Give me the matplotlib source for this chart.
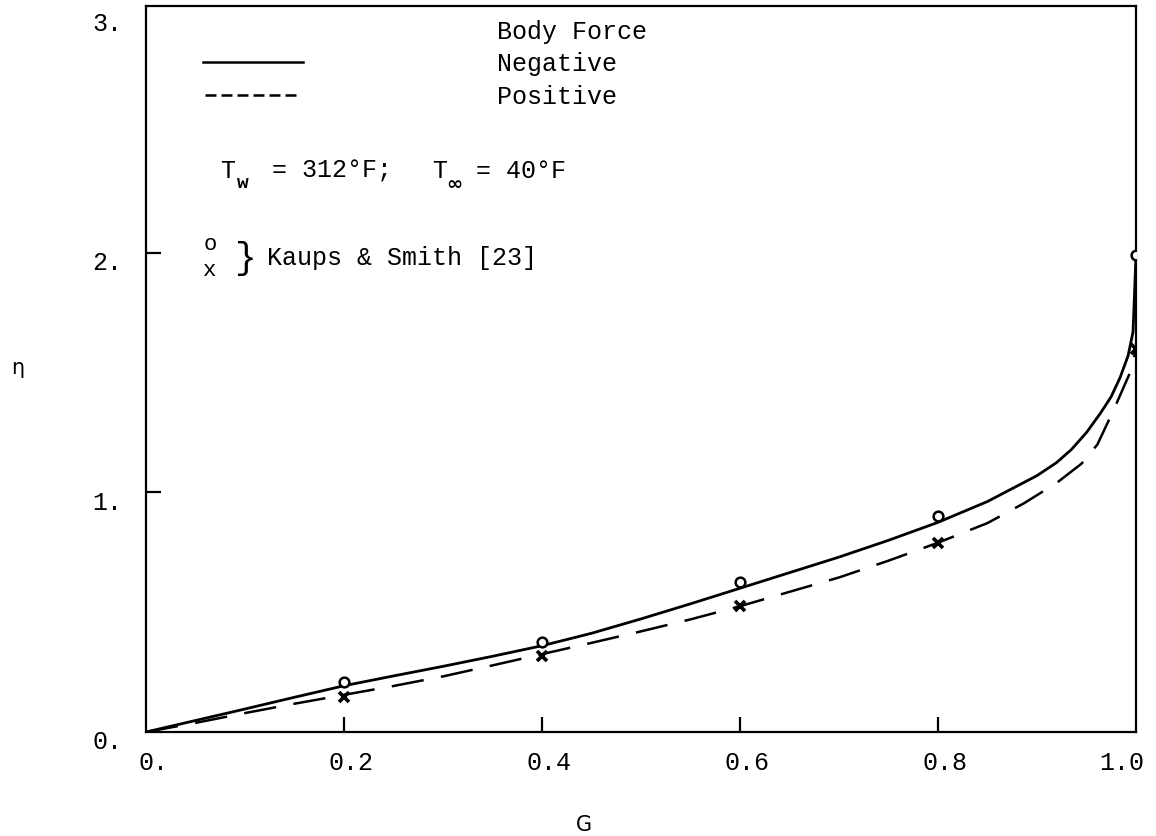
import matplotlib
matplotlib.use('Agg')
import matplotlib.pyplot as plt
from matplotlib.lines import Line2D
from matplotlib.transforms import ScaledTranslation

# 字体：打字机风格的等宽字体
MONO = ['Liberation Mono', 'DejaVu Sans Mono']
plt.rcParams['font.family'] = MONO

# 数值解：体积力为负（实线）
g_neg = [0.0, 0.05, 0.1, 0.15, 0.2, 0.25, 0.3, 0.35, 0.4, 0.45, 0.5, 0.55,
         0.6, 0.65, 0.7, 0.75, 0.8, 0.85, 0.9, 0.92, 0.935, 0.95, 0.964,
         0.975, 0.984, 0.992, 0.997, 1.0]
eta_neg = [0.0, 0.048, 0.096, 0.145, 0.193, 0.234, 0.274, 0.316, 0.36, 0.412,
           0.472, 0.535, 0.60, 0.665, 0.73, 0.80, 0.875, 0.962, 1.07, 1.125,
           1.18, 1.25, 1.33, 1.40, 1.48, 1.57, 1.67, 1.99]

# 数值解：体积力为正（虚线）
g_pos = [0.0, 0.05, 0.1, 0.15, 0.2, 0.25, 0.3, 0.35, 0.4, 0.45, 0.5, 0.55,
         0.6, 0.65, 0.7, 0.75, 0.8, 0.85, 0.887, 0.92, 0.945, 0.961, 0.977,
         0.994, 1.0]
eta_pos = [0.0, 0.038, 0.079, 0.118, 0.155, 0.192, 0.232, 0.278, 0.325, 0.372,
           0.42, 0.47, 0.525, 0.585, 0.645, 0.715, 0.79, 0.872, 0.955, 1.04,
           1.12, 1.2, 1.34, 1.5, 1.6]

# Kaups & Smith [23] 的数据点
g_ks = [0.2, 0.4, 0.6, 0.8, 1.0]
eta_ks_o = [0.208, 0.375, 0.625, 0.90, 1.99]
eta_ks_x = [0.146, 0.317, 0.525, 0.787, 1.60]

xticks = [0.0, 0.2, 0.4, 0.6, 0.8, 1.0]
xtick_labels = ['0.', '0.2', '0.4', '0.6', '0.8', '1.0']
yticks = [0, 1, 2, 3]
ytick_labels = ['0.', '1.', '2.', '3.']

W, H = 1156, 837
fig = plt.figure(figsize=(W / 100, H / 100), dpi=100)
ax = fig.add_axes([146 / W, 1 - 733 / H, (1136 - 146) / W, (733 - 7) / H])


def px(x, y):
    return x / W, 1 - y / H


ax.plot(g_neg, eta_neg, color='black', lw=2.0, solid_joinstyle='round')
ax.plot(g_pos, eta_pos, color='black', lw=1.8, dashes=(13, 7))
ax.plot(g_ks, eta_ks_o, ls='none', marker='o', ms=7, mfc='white',
        mec='black', mew=1.8, zorder=5)
ax.plot(g_ks, eta_ks_x, ls='none', marker='x', ms=7, color='black',
        mew=2.6, zorder=5)

ax.set_xlim(0, 1.0)
ax.set_ylim(0, 3.03)
for s in ax.spines.values():
    s.set_linewidth(1.6)

ax.set_xticks(xticks)
ax.set_xticklabels(xtick_labels, fontsize=18)
ax.set_yticks(yticks)
ax.set_yticklabels(ytick_labels, fontsize=18)
ax.tick_params(direction='in', length=11, width=1.6, pad=13)
ax.tick_params(axis='y', pad=17)
ax.tick_params(top=False, right=False)

# 两端刻度线不画，只保留标签
for t in (ax.xaxis.get_major_ticks()[0], ax.xaxis.get_major_ticks()[-1],
          ax.yaxis.get_major_ticks()[0], ax.yaxis.get_major_ticks()[-1]):
    t.tick1line.set_visible(False)

# 标签位置微调
for i, lab in enumerate(ax.get_xticklabels()):
    dx = -14 if i == len(xticks) - 1 else 7
    lab.set_transform(lab.get_transform() + ScaledTranslation(dx / 100, 0, fig.dpi_scale_trans))
for lab in ax.get_yticklabels():
    lab.set_transform(lab.get_transform() + ScaledTranslation(0, -7 / 100, fig.dpi_scale_trans))

# 坐标轴名称
fig.text(*px(18, 368), 'η', family='DejaVu Sans', fontsize=15, ha='center', va='center')
fig.text(*px(584, 825), 'G', family='DejaVu Sans', fontsize=15, ha='center', va='center')

# 图例
fs = 18
fig.text(*px(497, 39), 'Body Force', fontsize=fs, va='baseline')
fig.text(*px(497, 71), 'Negative', fontsize=fs, va='baseline')
fig.text(*px(497, 104), 'Positive', fontsize=fs, va='baseline')
x0, y0 = px(203, 63)
x1, _ = px(303, 63)
fig.add_artist(Line2D([x0, x1], [y0, y0], color='black', lw=1.8))
x0, y0 = px(205, 96)
x1, _ = px(298, 96)
fig.add_artist(Line2D([x0, x1], [y0, y0], color='black', lw=1.8, dashes=(4.4, 2.0)))

# 温度条件
fig.text(*px(220, 178), 'T', fontsize=fs, va='baseline')
fig.text(*px(237, 188), 'w', fontsize=14, fontweight='bold', va='baseline')
fig.text(*px(272, 178), '= 312°F;', fontsize=fs, va='baseline')
fig.text(*px(432, 178), 'T', fontsize=fs, va='baseline')
fig.text(*px(446, 190), '∞', family='DejaVu Sans', fontsize=14, fontweight='bold', va='baseline')
fig.text(*px(476, 178), '= 40°F', fontsize=fs, va='baseline')

# 实验数据说明
fig.text(*px(210, 245), 'o', fontsize=16, ha='center', va='center')
fig.text(*px(210, 271), 'x', fontsize=16, ha='center', va='center')
fig.text(*px(245, 258), '}', fontsize=26, ha='center', va='center')
fig.text(*px(267, 265), 'Kaups & Smith [23]', fontsize=fs, va='baseline')

fig.savefig('out.png', dpi=100, facecolor='white')
